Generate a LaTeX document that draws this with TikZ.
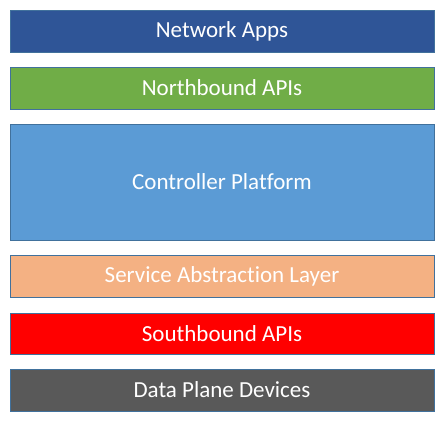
\documentclass[tikz,border=0pt]{standalone}
\usepackage{fontspec}
\setmainfont{Carlito}[Ligatures=NoCommon]
\usepackage{tikz}
\definecolor{layeredge}{HTML}{41719C}
\definecolor{layerdblue}{HTML}{2F5597}
\definecolor{layergreen}{HTML}{70AD47}
\definecolor{layerblue}{HTML}{5B9BD5}
\definecolor{layerpeach}{HTML}{F4B183}
\definecolor{layerred}{HTML}{FF0000}
\definecolor{layergray}{HTML}{595959}
\tikzset{
  layerbox/.style={draw=layeredge, line width=0.7pt, text=white, inner sep=0pt,
    minimum width=424pt, font=\fontsize{23}{27}\selectfont},
}
\begin{document}
\begin{tikzpicture}[x=1pt,y=-1pt]
  % Schichtenstapel von oben nach unten
  \useasboundingbox (0,0) rectangle (443,420);
  \foreach \name/\y/\h/\col/\txt in {apps/31/42/layerdblue/Network Apps,
      north/88/42/layergreen/Northbound APIs,
      ctrl/182/116/layerblue/Controller Platform,
      sal/276/42/layerpeach/Service Abstraction Layer,
      south/333.5/41/layerred/Southbound APIs,
      dpd/390/42/layergray/Data Plane Devices} {
    \node[layerbox, fill=\col, minimum height=\h pt] (\name) at (222,\y) {\txt};
  }
\end{tikzpicture}
\end{document}
